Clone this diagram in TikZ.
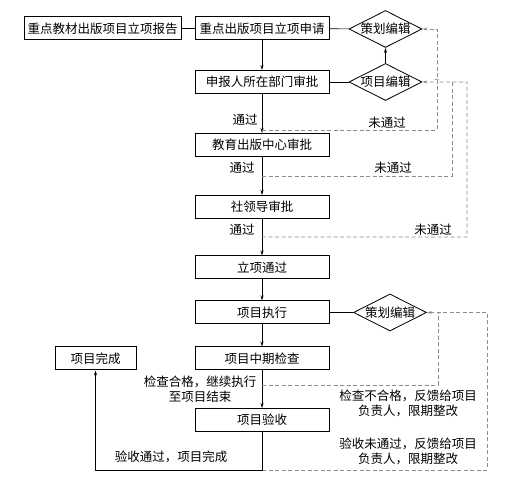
\documentclass[tikz,border=0pt]{standalone}
\usepackage{fontspec}
\setmainfont{Noto Sans CJK SC}
\usepackage{tikz}
\usetikzlibrary{positioning,arrows.meta,shapes.geometric}
\definecolor{dashgray}{RGB}{140,140,140}

\begin{document}
\begin{tikzpicture}[x=1pt, y=1pt, font=\fontsize{12.5}{15}\selectfont,
    >={Stealth[length=5pt, width=3pt]},
    box/.style={draw, line width=1pt, minimum height=23pt, inner sep=0pt},
    dia/.style={draw, diamond, line width=0.8pt, minimum width=73pt, minimum height=37pt, inner sep=0pt},
    fb/.style={dashed, dashgray, line width=0.7pt, dash pattern=on 4pt off 2.5pt},
    ln/.style={line width=0.6pt}]
  \useasboundingbox (0,0) rectangle (509,478);
  % main column
  \node[box, minimum width=157pt] (rep)  at (102.5,449.5) {重点教材出版项目立项报告};
  \node[box, minimum width=134pt] (app)  at (262,449.5) {重点出版项目立项申请};
  \node[box, minimum width=134pt] (dept) at (262,396) {申报人所在部门审批};
  \node[box, minimum width=134pt] (edu)  at (262,333) {教育出版中心审批};
  \node[box, minimum width=134pt] (lead) at (262,271) {社领导审批};
  \node[box, minimum width=134pt] (pass) at (262,210.5) {立项通过};
  \node[box, minimum width=134pt] (exe)  at (262,165.5) {项目执行};
  \node[box, minimum width=134pt] (mid)  at (262,119.5) {项目中期检查};
  \node[box, minimum width=134pt] (acc)  at (262,58) {项目验收};
  \node[box, minimum width=81pt]  (done) at (95.5,119.5) {项目完成};
  % editors
  \node[dia] (ce1) at (385.5,449) {};
  \node (ce1t) at (ce1) {策划编辑};
  \node[dia] (xm) at (385.5,396) {};
  \node (xmt) at (xm) {项目编辑};
  \node[dia] (ce2) at (390,165.5) {};
  \node (ce2t) at (ce2) {策划编辑};

  \draw[ln] (rep) -- (app);
  \draw[ln] (app) -- (ce1);
  \draw[ln] (dept) -- (xm);
  \draw[ln] (exe) -- (ce2);
  \draw[ln, ->] (xm) -- (ce1);
  \foreach \a/\b in {app/dept, dept/edu, edu/lead, lead/pass, pass/exe, exe/mid, mid/acc}
    \draw[ln, ->] (\a) -- (\b);

  % feedback from the approvals
  \coordinate (f1) at (262,348);
  \coordinate (f2) at (262,302);
  \coordinate (f3) at (262,241);
  \draw[fb, ->] (f1) -- (437,348) -- (437,449) -- (ce1.east);
  \draw[fb] (f2) -- (452,302) -- (452,396);
  \draw[fb, ->] (f3) -- (467,241) -- (467,396) -- (440,396)
     arc[start angle=0, end angle=180, radius=3pt] -- (xm.east);
  \node (ok1) at (245,358) {通过};
  \node (no1) at (387,355) {未通过};
  \node (ok2) at (242,310) {通过};
  \node (no2) at (393,310) {未通过};
  \node (ok3) at (242,248) {通过};
  \node (no3) at (433,248) {未通过};

  % execution and acceptance
  \coordinate (f4) at (262,93);
  \coordinate (f5) at (262,8);
  \draw[fb] (f4) -- (438,93) -- (438,165.5);
  \draw[fb, ->] (f5) -- (487,8) -- (487,165.5) -- (ce2.east);
  \draw[ln, ->] (acc) -- (f5) -- (done.south |- f5) -- (done);
  \node[align=center] (chk) at (200,89) {检查合格，继续执行\\至项目结束};
  \node[align=center] (bad) at (408,74.5) {检查不合格，反馈给项目\\负责人，限期整改};
  \node[align=center] (rej) at (408,27) {验收未通过，反馈给项目\\负责人，限期整改};
  \node (fin) at (171,21) {验收通过，项目完成};
\end{tikzpicture}
\end{document}
